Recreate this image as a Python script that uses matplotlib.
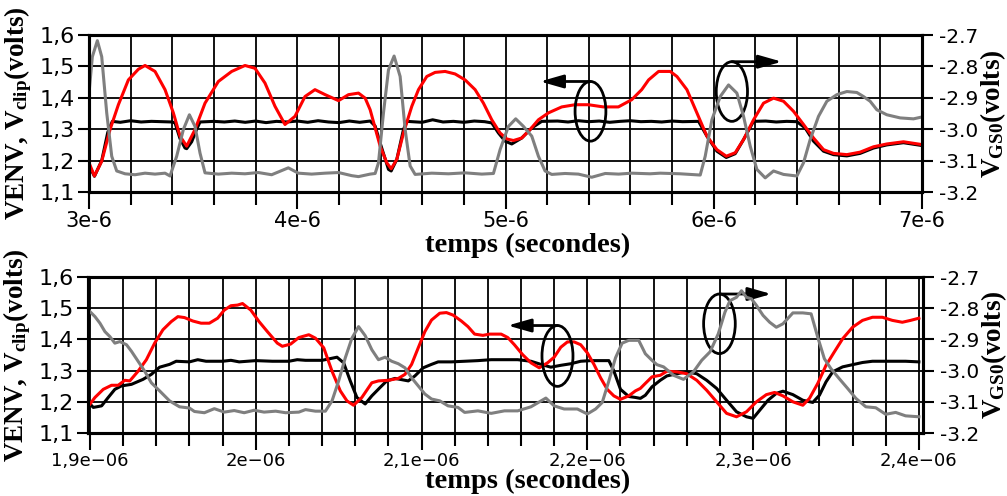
import numpy as np
import matplotlib
matplotlib.use('Agg')
import matplotlib.pyplot as plt
from matplotlib.patches import Ellipse

# ---- upper panel (time in microseconds) ----
t1_red = [3.000, 3.026, 3.061, 3.101, 3.141, 3.189, 3.237, 3.269, 3.317, 3.365,
          3.405, 3.437, 3.469, 3.509, 3.557, 3.621, 3.685, 3.749, 3.797, 3.845,
          3.893, 3.941, 3.989, 4.037, 4.085, 4.134, 4.198, 4.246, 4.294, 4.326,
          4.350, 4.398, 4.430, 4.451, 4.478, 4.510, 4.550, 4.582, 4.622, 4.662,
          4.710, 4.758, 4.806, 4.854, 4.894, 4.934, 4.974, 5.006, 5.038, 5.078,
          5.118, 5.158, 5.206, 5.270, 5.334, 5.398, 5.470, 5.542, 5.606, 5.654,
          5.687, 5.735, 5.791, 5.823, 5.871, 5.919, 5.967, 6.015, 6.060, 6.103,
          6.143, 6.191, 6.239, 6.287, 6.335, 6.383, 6.431, 6.479, 6.527, 6.575,
          6.639, 6.703, 6.767, 6.831, 6.911, 7.000]
v1_red = [1.193, 1.151, 1.198, 1.299, 1.378, 1.457, 1.491, 1.503, 1.484, 1.426,
          1.352, 1.278, 1.246, 1.299, 1.383, 1.452, 1.484, 1.503, 1.494, 1.447,
          1.373, 1.315, 1.341, 1.404, 1.426, 1.410, 1.391, 1.410, 1.415, 1.399,
          1.362, 1.246, 1.193, 1.174, 1.204, 1.288, 1.373, 1.426, 1.468, 1.481,
          1.484, 1.476, 1.457, 1.426, 1.383, 1.330, 1.288, 1.269, 1.264, 1.272,
          1.299, 1.330, 1.352, 1.371, 1.378, 1.378, 1.371, 1.371, 1.394, 1.426,
          1.457, 1.484, 1.484, 1.468, 1.426, 1.352, 1.278, 1.235, 1.214, 1.225,
          1.267, 1.330, 1.383, 1.399, 1.389, 1.357, 1.315, 1.272, 1.235, 1.223,
          1.219, 1.227, 1.244, 1.253, 1.260, 1.251]

t1_black = [3.000, 3.026, 3.061, 3.090, 3.112, 3.150, 3.200, 3.250, 3.300, 3.350,
            3.400, 3.413, 3.437, 3.461, 3.469, 3.493, 3.517, 3.533, 3.600, 3.650,
            3.700, 3.750, 3.800, 3.850, 3.900, 3.950, 4.000, 4.050, 4.100, 4.150,
            4.200, 4.250, 4.300, 4.350, 4.374, 4.398, 4.438, 4.451, 4.478, 4.510,
            4.526, 4.600, 4.650, 4.700, 4.750, 4.800, 4.850, 4.900, 4.934, 4.966,
            4.998, 5.030, 5.078, 5.126, 5.174, 5.250, 5.300, 5.350, 5.400, 5.450,
            5.500, 5.550, 5.600, 5.650, 5.700, 5.750, 5.800, 5.850, 5.927, 5.967,
            6.015, 6.060, 6.103, 6.143, 6.191, 6.250, 6.300, 6.350, 6.399, 6.439,
            6.479, 6.527, 6.575, 6.639, 6.703, 6.767, 6.831, 6.911, 7.000]
v1_black = [1.185, 1.150, 1.200, 1.290, 1.325, 1.322, 1.327, 1.323, 1.325, 1.324,
            1.323, 1.320, 1.270, 1.240, 1.238, 1.260, 1.300, 1.323, 1.325, 1.323,
            1.326, 1.322, 1.326, 1.321, 1.325, 1.323, 1.326, 1.322, 1.327, 1.323,
            1.321, 1.326, 1.322, 1.326, 1.310, 1.256, 1.172, 1.167, 1.204, 1.299,
            1.325, 1.322, 1.330, 1.323, 1.325, 1.322, 1.326, 1.324, 1.320, 1.288,
            1.262, 1.253, 1.272, 1.304, 1.325, 1.326, 1.323, 1.327, 1.324, 1.326,
            1.322, 1.325, 1.327, 1.324, 1.325, 1.323, 1.326, 1.324, 1.325, 1.278,
            1.230, 1.210, 1.222, 1.267, 1.325, 1.326, 1.323, 1.325, 1.324, 1.304,
            1.262, 1.230, 1.219, 1.215, 1.223, 1.240, 1.250, 1.257, 1.248]

t1_gray = [3.000, 3.016, 3.040, 3.061, 3.085, 3.109, 3.133, 3.173, 3.221, 3.269,
           3.317, 3.365, 3.389, 3.421, 3.453, 3.482, 3.509, 3.533, 3.557, 3.621,
           3.685, 3.749, 3.813, 3.877, 3.957, 4.005, 4.069, 4.134, 4.198, 4.262,
           4.294, 4.350, 4.374, 4.390, 4.414, 4.438, 4.465, 4.494, 4.518, 4.542,
           4.566, 4.646, 4.726, 4.806, 4.886, 4.942, 4.974, 5.014, 5.049, 5.086,
           5.126, 5.158, 5.190, 5.222, 5.286, 5.350, 5.414, 5.479, 5.543, 5.606,
           5.694, 5.743, 5.839, 5.935, 5.959, 5.991, 6.031, 6.071, 6.111, 6.143,
           6.175, 6.207, 6.247, 6.287, 6.335, 6.399, 6.431, 6.463, 6.503, 6.543,
           6.591, 6.639, 6.687, 6.719, 6.751, 6.783, 6.831, 6.895, 6.959, 7.000]
v1_gray = [-2.885, -2.769, -2.718, -2.769, -2.948, -3.086, -3.133, -3.142, -3.145, -3.140,
           -3.143, -3.140, -3.149, -3.086, -3.001, -2.954, -2.991, -3.076, -3.139, -3.143,
           -3.140, -3.142, -3.138, -3.145, -3.123, -3.140, -3.143, -3.140, -3.138, -3.148,
           -3.151, -3.143, -3.141, -3.107, -2.948, -2.811, -2.767, -2.832, -3.001, -3.117,
           -3.144, -3.140, -3.142, -3.139, -3.143, -3.141, -3.065, -2.991, -2.967, -2.991,
           -3.022, -3.086, -3.133, -3.144, -3.141, -3.143, -3.153, -3.141, -3.143, -3.140,
           -3.142, -3.140, -3.142, -3.146, -3.086, -2.970, -2.896, -2.859, -2.885, -2.959,
           -3.054, -3.128, -3.155, -3.133, -3.144, -3.149, -3.107, -3.033, -2.959, -2.911,
           -2.890, -2.880, -2.883, -2.896, -2.911, -2.938, -2.954, -2.964, -2.967, -2.961]

top_ticks = [3, 4, 5, 6, 7]
top_ticklabels = ['3e-6', '4e-6', '5e-6', '6e-6', '7e-6']

# ---- lower panel (time in microseconds) ----
t2_red = [1.900, 1.903, 1.908, 1.913, 1.917, 1.921, 1.924, 1.929, 1.934, 1.939,
          1.944, 1.949, 1.953, 1.957, 1.962, 1.967, 1.972, 1.977, 1.981, 1.985,
          1.989, 1.992, 1.997, 2.002, 2.007, 2.013, 2.016, 2.021, 2.026, 2.032,
          2.036, 2.041, 2.046, 2.051, 2.055, 2.059, 2.064, 2.070, 2.074, 2.080,
          2.086, 2.090, 2.094, 2.098, 2.102, 2.106, 2.111, 2.115, 2.119, 2.124,
          2.128, 2.132, 2.137, 2.141, 2.148, 2.152, 2.156, 2.161, 2.166, 2.171,
          2.176, 2.180, 2.184, 2.188, 2.192, 2.196, 2.200, 2.204, 2.208, 2.212,
          2.216, 2.220, 2.225, 2.229, 2.232, 2.235, 2.239, 2.244, 2.248, 2.254,
          2.260, 2.266, 2.272, 2.278, 2.284, 2.290, 2.296, 2.302, 2.308, 2.313,
          2.318, 2.324, 2.330, 2.334, 2.339, 2.344, 2.349, 2.354, 2.360, 2.366,
          2.372, 2.378, 2.384, 2.390, 2.395, 2.400]
v2_red = [1.193, 1.214, 1.240, 1.253, 1.253, 1.269, 1.267, 1.298, 1.335, 1.388,
          1.431, 1.457, 1.473, 1.470, 1.459, 1.452, 1.452, 1.468, 1.494, 1.508,
          1.510, 1.515, 1.494, 1.457, 1.425, 1.388, 1.378, 1.385, 1.406, 1.415,
          1.404, 1.373, 1.298, 1.235, 1.203, 1.189, 1.214, 1.261, 1.267, 1.269,
          1.275, 1.288, 1.320, 1.373, 1.425, 1.462, 1.484, 1.486, 1.478, 1.459,
          1.441, 1.417, 1.413, 1.417, 1.417, 1.406, 1.383, 1.351, 1.325, 1.309,
          1.325, 1.343, 1.375, 1.392, 1.392, 1.383, 1.357, 1.320, 1.277, 1.240,
          1.219, 1.208, 1.219, 1.235, 1.243, 1.259, 1.280, 1.285, 1.298, 1.296,
          1.290, 1.269, 1.237, 1.200, 1.163, 1.152, 1.168, 1.200, 1.223, 1.230,
          1.219, 1.200, 1.189, 1.211, 1.259, 1.317, 1.360, 1.402, 1.439, 1.461,
          1.471, 1.471, 1.461, 1.455, 1.461, 1.468]

t2_black = [1.900, 1.902, 1.907, 1.911, 1.915, 1.919, 1.925, 1.932, 1.937, 1.942,
            1.948, 1.952, 1.960, 1.965, 1.970, 1.980, 1.985, 1.990, 2.000, 2.010,
            2.020, 2.025, 2.030, 2.040, 2.049, 2.053, 2.057, 2.061, 2.066, 2.070,
            2.075, 2.079, 2.084, 2.092, 2.096, 2.101, 2.106, 2.110, 2.118, 2.126,
            2.134, 2.142, 2.150, 2.158, 2.166, 2.172, 2.178, 2.184, 2.190, 2.196,
            2.202, 2.213, 2.216, 2.220, 2.225, 2.229, 2.232, 2.235, 2.239, 2.244,
            2.248, 2.254, 2.260, 2.266, 2.272, 2.278, 2.284, 2.290, 2.296, 2.300,
            2.304, 2.309, 2.314, 2.318, 2.324, 2.330, 2.336, 2.340, 2.344, 2.348,
            2.354, 2.360, 2.366, 2.372, 2.378, 2.384, 2.392, 2.400]
v2_black = [1.193, 1.182, 1.187, 1.214, 1.240, 1.251, 1.256, 1.272, 1.288, 1.311,
            1.320, 1.330, 1.328, 1.335, 1.330, 1.330, 1.333, 1.328, 1.332, 1.330,
            1.330, 1.335, 1.333, 1.333, 1.343, 1.325, 1.267, 1.214, 1.193, 1.219,
            1.246, 1.267, 1.275, 1.267, 1.283, 1.309, 1.320, 1.328, 1.328, 1.330,
            1.332, 1.335, 1.335, 1.335, 1.330, 1.320, 1.311, 1.317, 1.322, 1.330,
            1.332, 1.332, 1.299, 1.240, 1.217, 1.214, 1.211, 1.221, 1.248, 1.269,
            1.283, 1.290, 1.296, 1.290, 1.269, 1.243, 1.205, 1.168, 1.152, 1.147,
            1.173, 1.205, 1.227, 1.234, 1.223, 1.205, 1.198, 1.221, 1.264, 1.296,
            1.312, 1.319, 1.326, 1.330, 1.330, 1.330, 1.330, 1.328]

t2_gray = [1.900, 1.903, 1.906, 1.909, 1.912, 1.915, 1.918, 1.922, 1.925, 1.929,
           1.933, 1.937, 1.942, 1.948, 1.954, 1.960, 1.963, 1.969, 1.975, 1.981,
           1.987, 1.993, 1.999, 2.005, 2.012, 2.018, 2.026, 2.030, 2.036, 2.042,
           2.046, 2.050, 2.054, 2.058, 2.062, 2.066, 2.070, 2.074, 2.078, 2.082,
           2.086, 2.090, 2.094, 2.098, 2.102, 2.106, 2.111, 2.116, 2.122, 2.126,
           2.134, 2.142, 2.150, 2.158, 2.166, 2.175, 2.180, 2.186, 2.194, 2.200,
           2.205, 2.209, 2.213, 2.217, 2.221, 2.225, 2.231, 2.235, 2.239, 2.242,
           2.246, 2.252, 2.258, 2.264, 2.269, 2.274, 2.279, 2.283, 2.286, 2.290,
           2.293, 2.296, 2.299, 2.302, 2.306, 2.310, 2.314, 2.318, 2.324, 2.330,
           2.335, 2.339, 2.343, 2.347, 2.352, 2.357, 2.362, 2.368, 2.374, 2.380,
           2.386, 2.392, 2.400]
v2_gray = [-2.811, -2.827, -2.848, -2.875, -2.891, -2.912, -2.907, -2.917, -2.938, -2.970,
           -3.002, -3.039, -3.065, -3.097, -3.116, -3.120, -3.131, -3.135, -3.122, -3.133,
           -3.128, -3.135, -3.127, -3.133, -3.130, -3.135, -3.133, -3.125, -3.130, -3.130,
           -3.097, -3.033, -2.959, -2.896, -2.859, -2.888, -2.933, -2.965, -2.957, -2.970,
           -2.978, -2.991, -3.023, -3.049, -3.075, -3.091, -3.097, -3.113, -3.118, -3.134,
           -3.129, -3.137, -3.129, -3.129, -3.116, -3.088, -3.113, -3.123, -3.123, -3.139,
           -3.123, -3.102, -3.033, -2.959, -2.912, -2.903, -2.903, -2.946, -2.967, -2.981,
           -2.988, -3.015, -3.028, -3.004, -2.967, -2.940, -2.882, -2.813, -2.776, -2.765,
           -2.744, -2.765, -2.770, -2.791, -2.823, -2.845, -2.861, -2.850, -2.815, -2.815,
           -2.818, -2.893, -2.962, -2.994, -3.026, -3.057, -3.089, -3.116, -3.119, -3.140,
           -3.134, -3.145, -3.148]

bot_ticks = [1.9, 2.0, 2.1, 2.2, 2.3, 2.4]
bot_ticklabels = ['1,9e\u221206', '2e\u221206', '2,1e\u221206', '2,2e\u221206',
                  '2,3e\u221206', '2,4e\u221206']

left_ticks = [1.1, 1.2, 1.3, 1.4, 1.5, 1.6]
left_ticklabels = ['1,1', '1,2', '1,3', '1,4', '1,5', '1,6']
right_ticks = [-3.2, -3.1, -3.0, -2.9, -2.8, -2.7]
right_ticklabels = ['-3.2', '-3.1', '-3.0', '-2.9', '-2.8', '-2.7']

US = 1e-6
RED = '#ff0000'
GRAY = '#7f7f7f'

plt.rcParams['font.family'] = 'DejaVu Sans'
plt.rcParams['mathtext.fontset'] = 'custom'
plt.rcParams['mathtext.rm'] = 'Liberation Serif:bold'
plt.rcParams['mathtext.it'] = 'Liberation Serif:bold'
plt.rcParams['mathtext.bf'] = 'Liberation Serif:bold'

label_font = dict(family='Liberation Serif', weight='bold', size=20.5)
ylabel_font = dict(family='Liberation Serif', weight='bold', size=19.5)


def draw_panel(ax, red, black, gray, xlim, major, majorlabels, minor_step, xfs):
    ax.plot(np.array(black[0]) * US, black[1], color='black', lw=2.2, zorder=3)
    ax.plot(np.array(red[0]) * US, red[1], color=RED, lw=2.2, zorder=4)
    ax.set_xlim(xlim[0] * US, xlim[1] * US)
    ax.set_ylim(1.1, 1.6)
    ax.set_xticks(np.array(major) * US, majorlabels, fontsize=xfs)
    ax.set_xticks(np.arange(major[0], major[-1] + minor_step / 2, minor_step) * US, minor=True)
    ax.set_yticks(left_ticks, left_ticklabels, fontsize=16)
    ax.grid(True, which='both', axis='x', color='black', lw=1.3)
    ax.grid(True, which='major', axis='y', color='black', lw=1.3)
    ax.tick_params(axis='x', which='major', direction='out', length=12, width=1.5, pad=2)
    ax.tick_params(axis='x', which='minor', direction='out', length=9, width=1.5)
    ax.tick_params(axis='y', direction='out', length=8, width=1.5, pad=2)
    for s in ax.spines.values():
        s.set_linewidth(2.2)

    ax2 = ax.twinx()
    ax2.plot(np.array(gray[0]) * US, gray[1], color=GRAY, lw=2.2)
    ax2.set_ylim(-3.2, -2.7)
    ax2.set_yticks(right_ticks, right_ticklabels, fontsize=14.5)
    ax2.tick_params(axis='y', direction='out', length=8, width=1.5, pad=4)
    for s in ax2.spines.values():
        s.set_linewidth(2.2)

    ax.set_ylabel('VENV, V$_{\\mathrm{clip}}$(volts)', **ylabel_font)
    ax.yaxis.set_label_coords(-0.066, 0.5)
    ax2.set_ylabel('V$_{\\mathrm{GS0}}$(volts)', **ylabel_font)
    ax2.yaxis.set_label_coords(1.067, 0.5)
    ax.set_xlabel('temps (secondes)', **label_font)
    return ax2


def mark(ax, center, w, h, tip):
    # ellipse with a horizontal arrow leaving from its top
    ax.add_patch(Ellipse((center[0] * US, center[1]), w * US, h, fill=False,
                         ec='black', lw=2, zorder=6))
    top = center[1] + h / 2
    ax.annotate('', xy=(tip * US, top), xytext=(center[0] * US, top),
                arrowprops=dict(arrowstyle='-|>,head_length=1.4,head_width=0.4',
                                color='black', lw=2, shrinkA=0, shrinkB=0),
                zorder=6)


fig = plt.figure(figsize=(10.07, 4.96), dpi=100)

ax_top = fig.add_axes([0.0884, 0.6129, 0.8272, 0.3165])
draw_panel(ax_top, (t1_red, v1_red), (t1_black, v1_black), (t1_gray, v1_gray),
           (3.0, 7.0), top_ticks, top_ticklabels, 0.2, 15)
ax_top.xaxis.set_label_coords(0.527, -0.34)
ax_top.xaxis.label.set_va('center')
mark(ax_top, (5.408, 1.357), 0.148, 0.190, 5.166)
mark(ax_top, (6.087, 1.420), 0.150, 0.190, 6.327)

ax_bot = fig.add_axes([0.0874, 0.1270, 0.8292, 0.3145])
draw_panel(ax_bot, (t2_red, v2_red), (t2_black, v2_black), (t2_gray, v2_gray),
           (1.8988, 2.4025), bot_ticks, bot_ticklabels, 0.02, 13)
ax_bot.xaxis.set_label_coords(0.527, -0.31)
ax_bot.xaxis.label.set_va('center')
mark(ax_bot, (2.182, 1.347), 0.0187, 0.195, 2.152)
mark(ax_bot, (2.2797, 1.450), 0.0191, 0.191, 2.311)

fig.savefig('out.png', dpi=100)
